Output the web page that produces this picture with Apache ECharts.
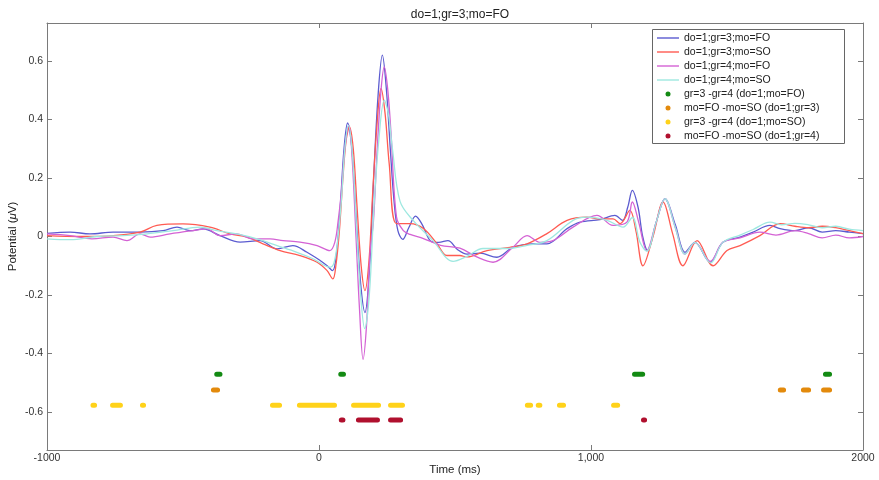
<!DOCTYPE html>
<html>
<head>
<meta charset="utf-8">
<script src="https://cdn.jsdelivr.net/npm/echarts@6/dist/echarts.min.js"></script>
<style>html,body{margin:0;padding:0;background:#fff}#c{width:879px;height:480px}</style>
</head>
<body>
<div id="c"></div>
<script>
// ---- data (time ms, potential µV) ----
const titleText = 'do=1;gr=3;mo=FO';
const xTickLabels = {'-1000':'-1000','0':'0','1000':'1,000','2000':'2000'};
const yTickValues = [-0.6,-0.4,-0.2,0,0.2,0.4,0.6];

const seriesNames = ['do=1;gr=3;mo=FO','do=1;gr=3;mo=SO','do=1;gr=4;mo=FO','do=1;gr=4;mo=SO'];
const markerNames = ['gr=3 -gr=4 (do=1;mo=FO)','mo=FO -mo=SO (do=1;gr=3)','gr=3 -gr=4 (do=1;mo=SO)','mo=FO -mo=SO (do=1;gr=4)'];

const blueT = [-1000,-915,-842,-757,-658,-573,-522,-474,-426,-364,-290,-217,-154,-96,-44,4,30,50,64,78,92,105,121,137,153,169,185,200,217,233,248,262,276,290,308,330,355,380,410,440,474,510,544,592,654,713,787,838,912,960,1033,1088,1116,1135,1152,1173,1190,1208,1240,1272,1310,1346,1382,1438,1485,1548,1596,1658,1695,1750,1800,1850,1900,1950,2000];
const blueV = [0.011,0.015,0.009,0.015,0.015,0.02,0.032,0.02,0.026,0.003,-0.019,-0.014,-0.042,-0.031,-0.054,-0.082,-0.1,-0.117,-0.06,0.1,0.3,0.388,0.3,0.06,-0.16,-0.26,-0.12,0.18,0.48,0.62,0.5,0.3,0.12,0.02,-0.01,0.03,0.07,0.04,-0.015,-0.02,-0.014,-0.045,-0.06,-0.057,-0.071,-0.037,-0.025,-0.025,0.027,0.049,0.058,0.072,0.055,0.1,0.158,0.1,0.0,-0.048,0.05,0.129,0.04,-0.054,-0.02,-0.088,-0.02,-0.002,0.015,0.038,0.027,0.02,0.03,0.015,0.02,0.015,0.01];

const redT = [-1000,-878,-757,-658,-596,-500,-401,-327,-265,-206,-143,-70,-7,29,51,62,75,88,100,112,126,140,155,169,184,198,213,228,243,258,285,335,384,434,470,518,544,618,702,765,838,912,985,1033,1081,1107,1143,1165,1191,1228,1265,1300,1338,1390,1449,1500,1548,1621,1695,1750,1800,1850,1900,1950,2000];
const redV = [0.003,0.0,0.003,0.015,0.038,0.043,0.032,0.009,-0.002,-0.025,-0.048,-0.065,-0.088,-0.116,-0.145,-0.1,0.02,0.2,0.33,0.375,0.3,0.1,-0.1,-0.185,-0.08,0.16,0.38,0.506,0.42,0.25,0.044,0.044,0.027,-0.025,-0.065,-0.065,-0.07,-0.048,-0.037,-0.025,0.01,0.055,0.066,0.06,0.06,0.044,0.089,0.02,-0.1,0.0,0.118,0.01,-0.1,-0.014,-0.1,-0.048,-0.031,0.003,0.044,0.035,0.03,0.035,0.03,0.02,0.01];

const magT = [-1000,-915,-835,-757,-706,-658,-621,-548,-463,-412,-364,-302,-243,-180,-132,-70,-7,40,58,70,82,95,110,123,136,149,162,175,188,200,214,228,240,253,265,285,310,335,384,447,518,580,640,713,765,812,860,934,1022,1081,1132,1152,1175,1205,1240,1272,1310,1346,1382,1438,1485,1548,1621,1680,1750,1800,1850,1900,1950,2000];
const magV = [0.009,0.003,-0.008,-0.002,-0.014,0.009,-0.002,0.009,0.02,0.026,0.003,0.009,-0.008,-0.008,-0.014,-0.019,-0.031,-0.048,-0.02,0.05,0.15,0.3,0.38,0.25,0.0,-0.25,-0.42,-0.3,-0.05,0.05,0.3,0.5,0.58,0.5,0.35,0.066,0.02,0.007,-0.007,-0.03,-0.04,-0.07,-0.088,-0.037,0.003,-0.02,-0.014,0.032,0.072,0.038,0.049,0.118,0.05,-0.048,0.05,0.129,0.03,-0.06,-0.02,-0.085,-0.02,-0.005,0.015,0.005,0.02,0.01,-0.005,0.005,-0.005,0.0];

const cyanT = [-1000,-915,-816,-720,-632,-537,-437,-375,-302,-228,-154,-81,-22,40,55,68,82,95,108,123,138,153,168,185,202,220,240,255,270,298,346,419,493,544,603,691,765,838,934,985,1059,1118,1152,1180,1205,1240,1272,1310,1346,1382,1440,1485,1548,1596,1658,1700,1750,1800,1850,1900,1950,2000];
const cyanV = [-0.008,-0.011,0.0,0.003,0.009,0.02,0.032,0.02,0.009,-0.008,-0.031,-0.054,-0.076,-0.105,-0.09,-0.02,0.12,0.3,0.38,0.28,0.03,-0.2,-0.315,-0.2,0.1,0.33,0.466,0.42,0.3,0.12,0.055,-0.014,-0.085,-0.068,-0.041,-0.041,-0.03,-0.014,0.055,0.066,0.055,0.032,0.065,-0.02,-0.05,0.05,0.129,0.03,-0.06,-0.02,-0.09,-0.02,0.005,0.024,0.049,0.04,0.045,0.04,0.03,0.035,0.025,0.02];

// significance segments [start ms, end ms] and row levels
const markerLevels = [-0.471,-0.525,-0.577,-0.627];
const greenSegs = [[-376,-364],[80,90],[1160,1190],[1862,1877]];
const orangeSegs = [[-388,-373],[1696,1708],[1781,1800],[1855,1877]];
const yellowSegs = [[-831,-825],[-759,-730],[-649,-645],[-171,-145],[-72,57],[127,219],[263,307],[766,778],[806,812],[884,899],[1083,1098]];
const crimsonSegs = [[82,88],[145,215],[263,300],[1193,1197]];

// ---- build ----
const lineColors = ['#5b5bd0','#ff5b52','#d462d4','#9ee8e0'];
const markerColors = ['#138a13','#e38a0c','#ffd21a','#b0102e'];
const fontFam = 'Liberation Sans, Arial, Helvetica, sans-serif';

function pairs(t,v){return t.map((x,i)=>[x,v[i]]);}
function segData(segs,level){
  const d=[];
  segs.forEach(s=>{d.push([s[0],level]);d.push([s[1],level]);d.push([s[1],'-']);});
  return d;
}
const waves=[[blueT,blueV],[redT,redV],[magT,magV],[cyanT,cyanV]];
const series=[];
waves.forEach((w,i)=>{
  series.push({name:seriesNames[i],type:'line',data:pairs(w[0],w[1]),smooth:0.35,symbol:'none',
    lineStyle:{width:1.3,color:lineColors[i]},itemStyle:{color:lineColors[i]},z:2+i});
});
[greenSegs,orangeSegs,yellowSegs,crimsonSegs].forEach((s,i)=>{
  series.push({name:markerNames[i],type:'line',data:segData(s,markerLevels[i]),symbol:'none',connectNulls:false,
    lineStyle:{width:5,color:markerColors[i],cap:'round'},itemStyle:{color:markerColors[i]},z:10});
});

const axisLineStyle={onZero:false,lineStyle:{color:'#7a7a7a',width:1}};
const tickStyle={lineStyle:{color:'#7a7a7a'}};
const chart=echarts.init(document.getElementById('c'),null,{renderer:'canvas'});
chart.setOption({
  animation:false,
  backgroundColor:'#fff',
  title:{text:titleText,left:455,textAlign:'center',top:4,textStyle:{fontSize:12,fontWeight:'normal',color:'#222',fontFamily:fontFam}},
  grid:{left:47,right:16,top:23,bottom:30,containLabel:false,outerBoundsMode:'none'},
  xAxis:[{type:'value',min:-1000,max:2000,interval:1000,position:'bottom',
      axisLine:axisLineStyle,axisTick:Object.assign({inside:true,length:5},tickStyle),splitLine:{show:false},
      axisLabel:{color:'#333',fontSize:10.5,fontFamily:fontFam,margin:3,formatter:v=>xTickLabels[String(v)]||String(v)},
      name:'Time (ms)',nameLocation:'middle',nameGap:14,nameMoveOverlap:false,nameTextStyle:{color:'#222',fontSize:11.5,fontFamily:fontFam}},
    {type:'value',min:-1000,max:2000,interval:1000,position:'top',axisLine:axisLineStyle,
      axisTick:Object.assign({inside:true,length:5},tickStyle),axisLabel:{show:false},splitLine:{show:false}}],
  yAxis:[{type:'value',min:-0.73,max:0.73,position:'left',
      axisLine:Object.assign({show:true},axisLineStyle),
      axisTick:Object.assign({show:true,inside:true,length:5,customValues:yTickValues},tickStyle),
      axisLabel:{customValues:yTickValues,color:'#333',fontSize:10.5,fontFamily:fontFam,margin:4,formatter:v=>String(Math.round(v*10)/10)},
      splitLine:{show:false},
      name:'Potential ({i|μ}V)',nameLocation:'middle',nameGap:28,nameRotate:90,nameMoveOverlap:false,
      nameTextStyle:{color:'#222',fontSize:11.5,fontFamily:fontFam,rich:{i:{fontStyle:'italic',fontSize:11.5,fontFamily:fontFam,color:'#222'}}}},
    {type:'value',min:-0.73,max:0.73,position:'right',
      axisLine:Object.assign({show:true},axisLineStyle),
      axisTick:Object.assign({show:true,inside:true,length:5,customValues:yTickValues},tickStyle),
      axisLabel:{show:false},splitLine:{show:false}}],
  graphic:[{type:'rect',shape:{x:652.5,y:29.5,width:192,height:114},style:{fill:'#fff',stroke:'#666',lineWidth:1},z:50,silent:true}],
  legend:[
    {orient:'vertical',left:657,top:31,padding:0,itemGap:0,itemWidth:22,itemHeight:1.4,z:60,
     data:seriesNames.map(n=>({name:n,icon:'rect'})),
     textStyle:{fontSize:10.5,color:'#222',fontFamily:fontFam,lineHeight:14,height:14}},
    {orient:'vertical',left:665.5,top:87,padding:0,itemGap:0,itemWidth:22,itemHeight:5,z:60,
     data:markerNames.map(n=>({name:n,icon:'circle'})),
     textStyle:{fontSize:10.5,color:'#222',fontFamily:fontFam,lineHeight:14,height:14}}
  ],
  series:series
});
</script>
</body>
</html>
